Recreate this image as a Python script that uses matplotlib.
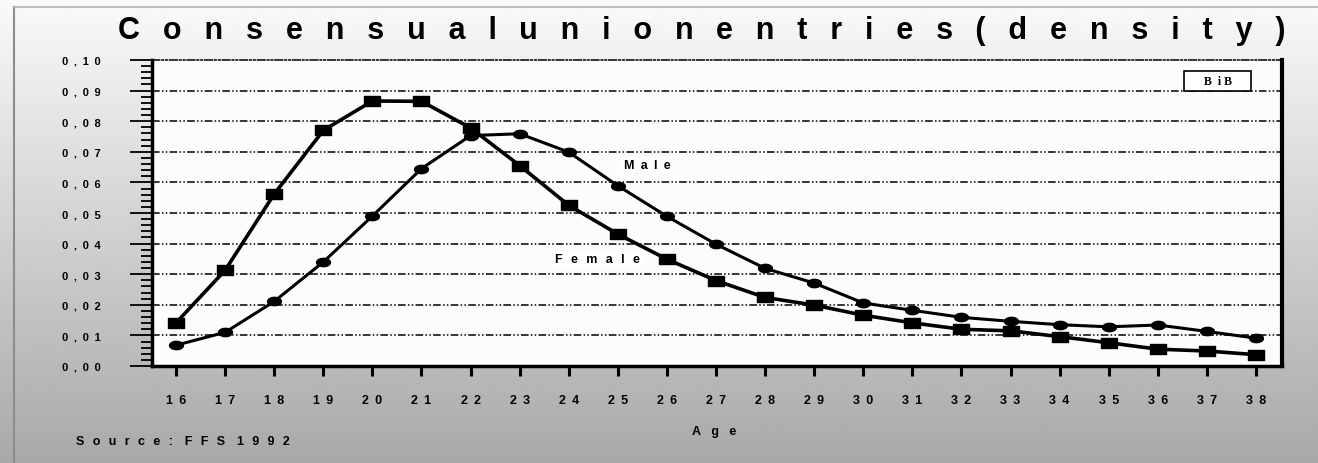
import numpy as np
import matplotlib
matplotlib.use("Agg")
import matplotlib.pyplot as plt
from matplotlib.path import Path
from matplotlib.patches import Rectangle

# Data
ages = list(range(16, 39))
female = [0.0141, 0.0313, 0.0562, 0.0770, 0.0866, 0.0865, 0.0778, 0.0655,
          0.0525, 0.0431, 0.0349, 0.0279, 0.0224, 0.0199, 0.0166, 0.0141,
          0.0120, 0.0115, 0.0096, 0.0076, 0.0055, 0.0049, 0.0037]
male = [0.0068, 0.0110, 0.0211, 0.0340, 0.0490, 0.0645, 0.0753, 0.0759,
        0.0699, 0.0589, 0.0489, 0.0398, 0.0319, 0.0271, 0.0206, 0.0182,
        0.0159, 0.0146, 0.0135, 0.0128, 0.0134, 0.0113, 0.0091]
yticks = [i / 100 for i in range(11)]

EN = "\u2002"     # en space
SIX = "\u2006"    # six-per-em space


def spaced(s, gap=EN, word_gap=None):
    # the original uses very wide letter spacing
    if word_gap is None:
        word_gap = gap
    return word_gap.join(gap.join(w) for w in s.split())


plt.rcParams['font.family'] = ['Liberation Sans', 'DejaVu Sans']
plt.rcParams['font.weight'] = 'bold'

fig = plt.figure(figsize=(13.18, 4.64), dpi=100)

# Gradient background with a thin grey frame
bg = fig.add_axes([0, 0, 1, 1], zorder=-10)
grad = np.linspace(0.98, 0.66, 256).reshape(-1, 1)
bg.imshow(grad, cmap='gray', vmin=0, vmax=1, aspect='auto', extent=[0, 1, 0, 1])
bg.plot([14 / 1318, 14 / 1318], [0, 1 - 8 / 464], color='#8c8c8c', lw=1.5)
bg.plot([14 / 1318, 1], [1 - 8 / 464, 1 - 8 / 464], color='#b0b0b0', lw=1.2)
bg.set_xlim(0, 1)
bg.set_ylim(0, 1)
bg.axis('off')

ax = fig.add_axes([152 / 1318, 97 / 464, 1130 / 1318, 306 / 464])
ax.set_facecolor('#fcfcfc')

# Wide rectangle and flat ellipse markers
rect = Path([(-1, -0.62), (1, -0.62), (1, 0.62), (-1, 0.62), (-1, -0.62)],
            [Path.MOVETO, Path.LINETO, Path.LINETO, Path.LINETO, Path.CLOSEPOLY])
t = np.linspace(0, 2 * np.pi, 40)
ell = Path(np.column_stack([np.cos(t), 0.6 * np.sin(t)]))

ax.plot(ages, female, color='black', lw=2.6, marker=rect, markersize=11,
        zorder=3)
ax.plot(ages, male, color='black', lw=2.2, marker=ell, markersize=10,
        zorder=3)

ax.set_xlim(15.51, 38.53)
ax.set_ylim(0, 0.1)

# Gridlines
for v in yticks[1:-1]:
    ax.axhline(v, color='black', lw=1.1, linestyle=(0, (5, 1.5, 1, 1.5, 1, 1.5)),
               zorder=1)

ax.set_xticks(ages)
ax.set_xticklabels([spaced(str(a)) for a in ages], fontsize=9, fontweight='bold')
ax.set_yticks(yticks)
ax.set_yticklabels([spaced("%.2f" % v).replace(".", ",") for v in yticks],
                   fontsize=8, fontweight='bold')
ax.set_yticks(np.arange(0, 0.1001, 0.002), minor=True)

ax.tick_params(axis='x', direction='out', length=7, width=2.2, pad=13)
ax.tick_params(axis='y', which='major', direction='out', length=16, width=1.3, pad=21)
ax.tick_params(axis='y', which='minor', direction='out', length=8, width=1.3)

for s in ['left', 'bottom']:
    ax.spines[s].set_linewidth(2.5)
ax.spines['right'].set_linewidth(3)
ax.spines['top'].set_linewidth(1.1)
ax.spines['top'].set_linestyle((0, (5, 1.5, 1, 1.5, 1, 1.5)))

# Series labels
ax.text(25.6, 0.0656, spaced("Male"), fontsize=9, fontweight='bold',
        ha='center', va='center',
        bbox=dict(facecolor='white', edgecolor='none', pad=1.5), zorder=4)
ax.text(24.59, 0.0349, spaced("Female", EN + SIX), fontsize=9, fontweight='bold',
        ha='center', va='center',
        bbox=dict(facecolor='white', edgecolor='none', pad=1.5), zorder=4)

# BiB box
ax.add_patch(Rectangle((0.913, 0.8987), 0.060, 0.065, transform=ax.transAxes,
                       facecolor='white', edgecolor='black', lw=1.2, zorder=4))
ax.text(0.943, 0.931, "B  i B", transform=ax.transAxes, fontsize=8.5,
        family='Liberation Serif', fontweight='bold', ha='center', va='center',
        zorder=5)

fig.text(702 / 1318, 1 - 31 / 464,
         spaced("Consensual union entries (density)", EN + "\u2005",
                " \u2005\u2009"),
         fontsize=22, fontweight='bold', ha='center', va='center')
fig.text(714 / 1318, 1 - 432 / 464, spaced("Age", EN + "\u2004"), fontsize=9,
         fontweight='bold', ha='center', va='center')
fig.text(76 / 1318, 1 - 442 / 464, spaced("Source: FFS 1992", EN + SIX, EN + SIX + " "),
         fontsize=9, fontweight='bold', ha='left', va='center')

fig.savefig("out.png", dpi=100)
